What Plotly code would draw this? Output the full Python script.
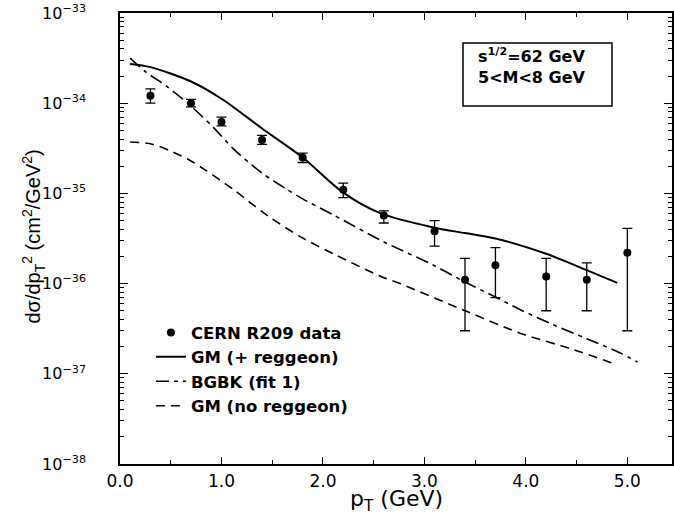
import plotly.graph_objects as go

# CERN R209 data points (pT in GeV, dsigma/dpT^2 in cm^2/GeV^2)
pt_data = [0.3, 0.7, 1.0, 1.4, 1.8, 2.2, 2.6, 3.1, 3.4, 3.7, 4.2, 4.6, 5.0]
sig_data = [1.21e-34, 1.00e-34, 6.2e-35, 3.9e-35, 2.5e-35, 1.1e-35, 5.7e-36,
            3.8e-36, 1.1e-36, 1.6e-36, 1.2e-36, 1.1e-36, 2.2e-36]
sig_hi = [1.44e-34, 1.10e-34, 7.0e-35, 4.4e-35, 2.8e-35, 1.3e-35, 6.4e-36,
          5.0e-36, 1.9e-36, 2.5e-36, 1.9e-36, 1.7e-36, 4.1e-36]
sig_lo = [1.0e-34, 0.91e-34, 5.6e-35, 3.5e-35, 2.2e-35, 0.9e-35, 4.7e-36,
          2.6e-36, 3.0e-37, 7.0e-37, 5.0e-37, 5.0e-37, 3.0e-37]

# GM (+ reggeon)
pt_gm = [0.10, 0.30, 0.70, 1.00, 1.40, 1.80, 2.20, 2.57, 3.10, 3.40, 3.70, 4.20, 4.60, 4.90]
sig_gm = [2.72e-34, 2.51e-34, 1.74e-34, 1.12e-34, 5.25e-35, 2.5e-35, 1.02e-35,
          6.0e-36, 4.17e-36, 3.63e-36, 3.16e-36, 2.14e-36, 1.41e-36, 1.02e-36]

# BGBK (fit 1)
pt_bgbk = [0.10, 0.25, 0.47, 0.69, 0.92, 1.12, 1.40, 1.65, 1.80, 2.10, 2.60,
           3.10, 3.40, 3.70, 3.95, 4.27, 4.60, 4.93, 5.10]
sig_bgbk = [3.16e-34, 2.24e-34, 1.51e-34, 9.5e-35, 5.4e-35, 3.1e-35, 1.68e-35,
            1.10e-35, 8.7e-36, 5.8e-36, 2.9e-36, 1.58e-36, 1.04e-36, 7.1e-37,
            5.1e-37, 3.5e-37, 2.45e-37, 1.7e-37, 1.35e-37]

# GM (no reggeon)
pt_gm0 = [0.10, 0.30, 0.50, 0.70, 0.83, 1.12, 1.45, 1.78, 2.11, 2.57, 2.76,
          3.42, 3.95, 4.44, 4.90]
sig_gm0 = [3.72e-35, 3.55e-35, 2.95e-35, 2.29e-35, 1.85e-35, 1.10e-35, 5.7e-36,
           3.3e-36, 2.12e-36, 1.20e-36, 1.0e-36, 4.9e-37, 2.8e-37, 1.9e-37, 1.26e-37]

y_tickvals = [1e-38, 1e-37, 1e-36, 1e-35, 1e-34, 1e-33]
y_ticktext = ["10<sup>\u221238</sup>", "10<sup>\u221237</sup>", "10<sup>\u221236</sup>",
              "10<sup>\u221235</sup>", "10<sup>\u221234</sup>", "10<sup>\u221233</sup>"]
y_minorvals = [k * d for d in [1e-38, 1e-37, 1e-36, 1e-35, 1e-34] for k in range(2, 10)]

err_plus = [h - v for h, v in zip(sig_hi, sig_data)]
err_minus = [v - l for v, l in zip(sig_data, sig_lo)]

# the original lettering is a wide Helvetica; DejaVu Sans matches its proportions best
FONT = "DejaVu Sans, sans-serif"
FONT_V = "Liberation Sans, Arial, sans-serif"

fig = go.Figure()

fig.add_trace(go.Scatter(
    x=pt_data, y=sig_data, mode="markers", name="CERN R209 data",
    marker=dict(color="black", size=8),
    error_y=dict(type="data", array=err_plus, arrayminus=err_minus,
                 color="black", thickness=1.3, width=5),
))
fig.add_trace(go.Scatter(
    x=pt_gm, y=sig_gm, mode="lines", name="GM (+ reggeon)",
    line=dict(color="black", width=2, shape="spline", smoothing=0.8),
))
fig.add_trace(go.Scatter(
    x=pt_bgbk, y=sig_bgbk, mode="lines", name="BGBK (fit 1)",
    line=dict(color="black", width=1.6, dash="13px,5px,4px,5px",
              shape="spline", smoothing=0.8),
))
fig.add_trace(go.Scatter(
    x=pt_gm0, y=sig_gm0, mode="lines", name="GM (no reggeon)",
    line=dict(color="black", width=1.6, dash="9px,6px",
              shape="spline", smoothing=0.8),
))

# energy / mass box
fig.add_shape(
    type="rect", xref="paper", yref="paper",
    x0=0.6214, x1=0.8913, y0=0.7938, y1=0.9335,
    line=dict(color="black", width=1.5), fillcolor="white", layer="above",
)
fig.add_annotation(
    xref="paper", yref="paper", x=0.645, y=0.8825,
    xanchor="left", yanchor="middle",
    text="s<sup>1/2</sup>=62 GeV<br>5&lt;M&lt;8 GeV",
    showarrow=False, align="left",
    font=dict(family=FONT, size=16, color="black", weight="bold"),
)

# axis titles as annotations for exact placement
fig.add_annotation(
    xref="paper", yref="paper", x=0.5, y=-0.08,
    xanchor="center", yanchor="middle", showarrow=False,
    text="p<sub>T</sub> (GeV)",
    font=dict(family=FONT, size=22, color="black"),
)
fig.add_annotation(
    xref="paper", yref="paper", x=-0.157, y=0.505,
    xanchor="center", yanchor="middle", showarrow=False, textangle=-90,
    text="d\u03c3/dp<sub>T</sub><sup>2</sup> (cm<sup>2</sup>/GeV<sup>2</sup>)",
    font=dict(family=FONT_V, size=20, color="black"),
)

fig.update_layout(
    width=674, height=522,
    margin=dict(l=120, r=2, t=13, b=58),
    plot_bgcolor="white", paper_bgcolor="white",
    font=dict(family=FONT, color="black"),
    showlegend=True,
    legend=dict(
        x=0.056, y=0.33, xanchor="left", yanchor="top",
        bgcolor="rgba(0,0,0,0)", borderwidth=0,
        font=dict(family=FONT, size=16.5, color="black", weight="bold"),
        tracegroupgap=0, itemwidth=30,
    ),
)

fig.update_xaxes(
    range=[0, 5.44], dtick=1, tick0=0, tickformat=".1f",
    showgrid=False, zeroline=False, automargin=False,
    showline=True, linecolor="black", linewidth=1.5, mirror="allticks",
    ticks="inside", ticklen=7, tickwidth=1.2, tickcolor="black",
    minor=dict(dtick=0.5, ticks="inside", ticklen=4, tickwidth=1, tickcolor="black", showgrid=False),
    tickfont=dict(family=FONT, size=17, color="black"),
    ticklabelstandoff=1,
)

fig.update_yaxes(
    type="log", range=[-38, -33],
    tickvals=y_tickvals, ticktext=y_ticktext,
    showgrid=False, zeroline=False, automargin=False,
    showline=True, linecolor="black", linewidth=1.5, mirror="allticks",
    ticks="inside", ticklen=8, tickwidth=1.2, tickcolor="black",
    minor=dict(tickvals=y_minorvals, ticks="inside", ticklen=4, tickwidth=1,
               tickcolor="black", showgrid=False),
    tickfont=dict(family=FONT, size=16, color="black"),
    ticklabelstandoff=29,
)

# the page body has a default 8px margin; drop it so the figure fills the window
fig.write_html("out.html", config={"displayModeBar": False},
               post_script="document.body.style.margin='0';")
